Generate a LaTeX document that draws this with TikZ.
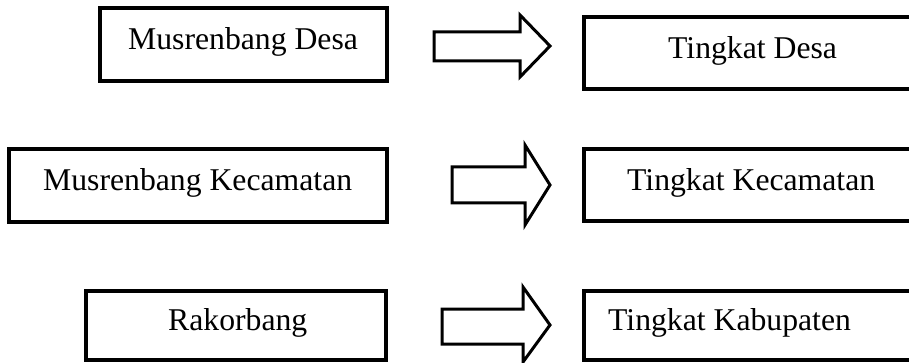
\documentclass[tikz,border=0pt]{standalone}
\usepackage{fontspec}
\setmainfont{Liberation Serif}
\begin{document}
\begin{tikzpicture}[x=1pt,y=-1pt,
  boxline/.style={draw=black,line width=3.3pt},
  blockarrow/.style={draw=black,line width=3pt,fill=white,line join=miter},
  lbl/.style={anchor=base west,inner sep=0pt,font=\fontsize{31.7}{38}\selectfont}]
\useasboundingbox (0,0) rectangle (909,363);
\begin{scope}
\clip (0,0) rectangle (909,363);
% left boxes
\draw[boxline] (100,8) rectangle (387,81) coordinate (b1);
\draw[boxline] (9,149) rectangle (387,222) coordinate (b2);
\draw[boxline] (86,291) rectangle (386,360) coordinate (b3);
% right boxes (running off the right edge)
\draw[boxline] (584,17) rectangle (930,89) coordinate (r1);
\draw[boxline] (584,149) rectangle (930,221) coordinate (r2);
\draw[boxline] (584,291) rectangle (930,360) coordinate (r3);
% block arrows
\draw[blockarrow] (434,32) -- (520,32) -- (520,15) -- (550,46) -- (520,77) -- (520,61) -- (434,61) -- cycle;
\draw[blockarrow] (452,167) -- (525,167) -- (525,145) -- (550,185) -- (525,225) -- (525,203) -- (452,203) -- cycle;
\draw[blockarrow] (442,309) -- (523,309) -- (523,287) -- (550,325) -- (523,362) -- (523,344) -- (442,344) -- cycle;
\end{scope}
% texts
\node[lbl] (t1) at (128,50) {Musrenbang Desa};
\node[lbl] (t2) at (43,191) {Musrenbang Kecamatan};
\node[lbl] (t3) at (168,330) {Rakorbang};
\node[lbl] (u1) at (668,59) {Tingkat Desa};
\node[lbl] (u2) at (627,191) {Tingkat Kecamatan};
\node[lbl] (u3) at (608,330) {Tingkat Kabupaten};
\end{tikzpicture}
\end{document}
